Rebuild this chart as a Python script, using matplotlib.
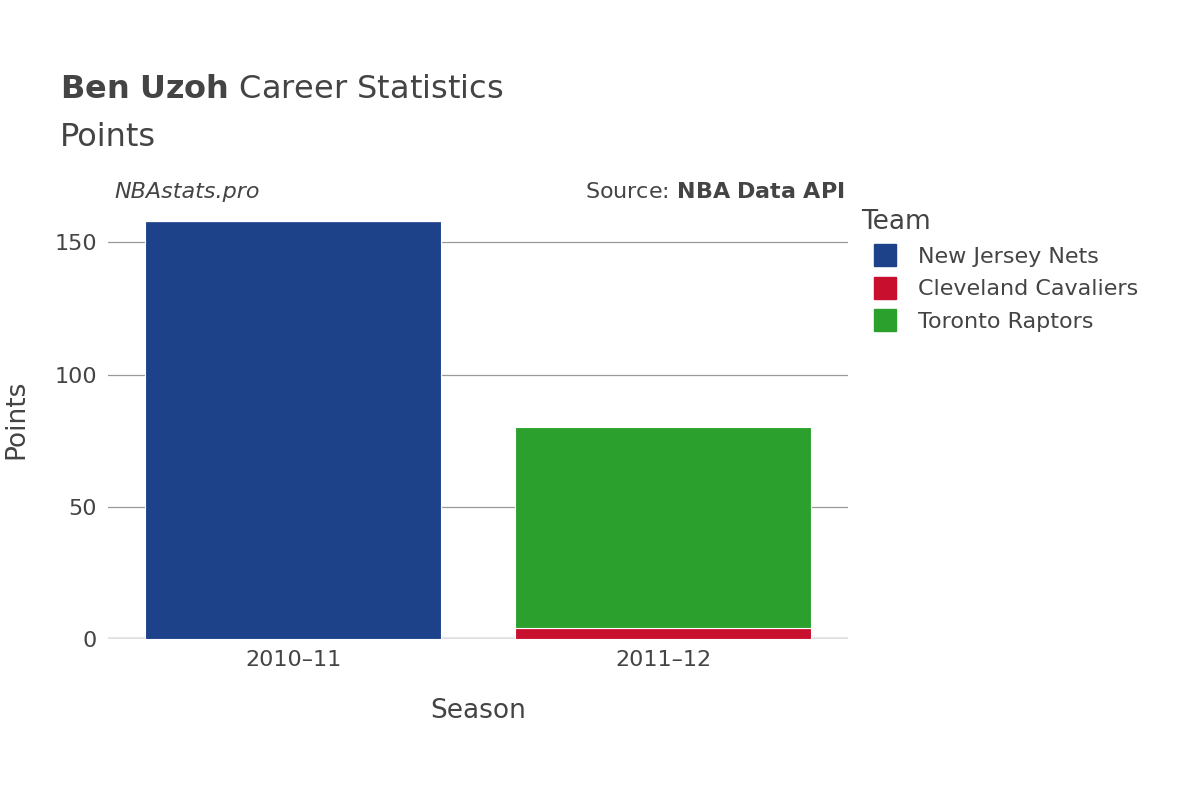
import matplotlib
matplotlib.use("Agg")
import matplotlib.pyplot as plt
from matplotlib.lines import Line2D

seasons = ["2010–11", "2011–12"]
teams = ["New Jersey Nets", "Cleveland Cavaliers", "Toronto Raptors"]
nets = [158, 0]
cavs = [0, 4]
raptors = [0, 76]
colors = ["#1d428a", "#c8102e", "#2ca02c"]
yticks = [0, 50, 100, 150]

fig = plt.figure(figsize=(12, 8), dpi=100)
ax = fig.add_axes([0.09, 0.20125, 0.6167, 0.54875])
x = range(len(seasons))
bottom = [0, 0]
for vals, c, name in zip([nets, cavs, raptors], colors, teams):
    ax.bar(x, vals, bottom=bottom, width=0.8, color=c, edgecolor="white", linewidth=0.8, label=name)
    bottom = [b + v for b, v in zip(bottom, vals)]

ax.set_xlim(-0.5, 1.5)
ax.set_ylim(0, 166)
ax.set_yticks(yticks)
ax.set_yticklabels([str(t) for t in yticks], fontsize=16, color="#444")
ax.set_xticks(list(x))
ax.set_xticklabels(seasons, fontsize=16, color="#444")
ax.grid(axis="y", color="#999", linewidth=0.9)
ax.set_axisbelow(True)
for s in ax.spines.values():
    s.set_visible(False)
ax.axhline(0, color="#e8e8e8", linewidth=3, zorder=0.5)
ax.tick_params(length=0, pad=8)
ax.set_xlabel("Season", fontsize=19, color="#444", labelpad=20)
ax.set_ylabel("Points", fontsize=19, color="#444", labelpad=18)

fig.text(0.05, 0.878, r"$\bf{Ben\ Uzoh}$ Career Statistics", fontsize=23, color="#444")
fig.text(0.05, 0.818, "Points", fontsize=23, color="#444")
fig.text(0.095, 0.752, "NBAstats.pro", fontsize=16, style="italic", color="#444")
fig.text(0.704, 0.752, r"Source: $\bf{NBA\ Data\ API}$", fontsize=16, color="#444", ha="right")

handles = [Line2D([], [], marker="s", linestyle="", markersize=16, color=c) for c in colors]
leg = ax.legend(handles, teams, loc="upper left", bbox_to_anchor=(1.005, 1.0), frameon=False, fontsize=16,
                title="Team", title_fontsize=19, handlelength=2.2, labelspacing=0.55,
                borderaxespad=0, handletextpad=0.4)
leg._legend_box.align = "left"
for t in leg.get_texts():
    t.set_color("#444")
leg.get_title().set_color("#444")

fig.savefig("out.png", dpi=100)
